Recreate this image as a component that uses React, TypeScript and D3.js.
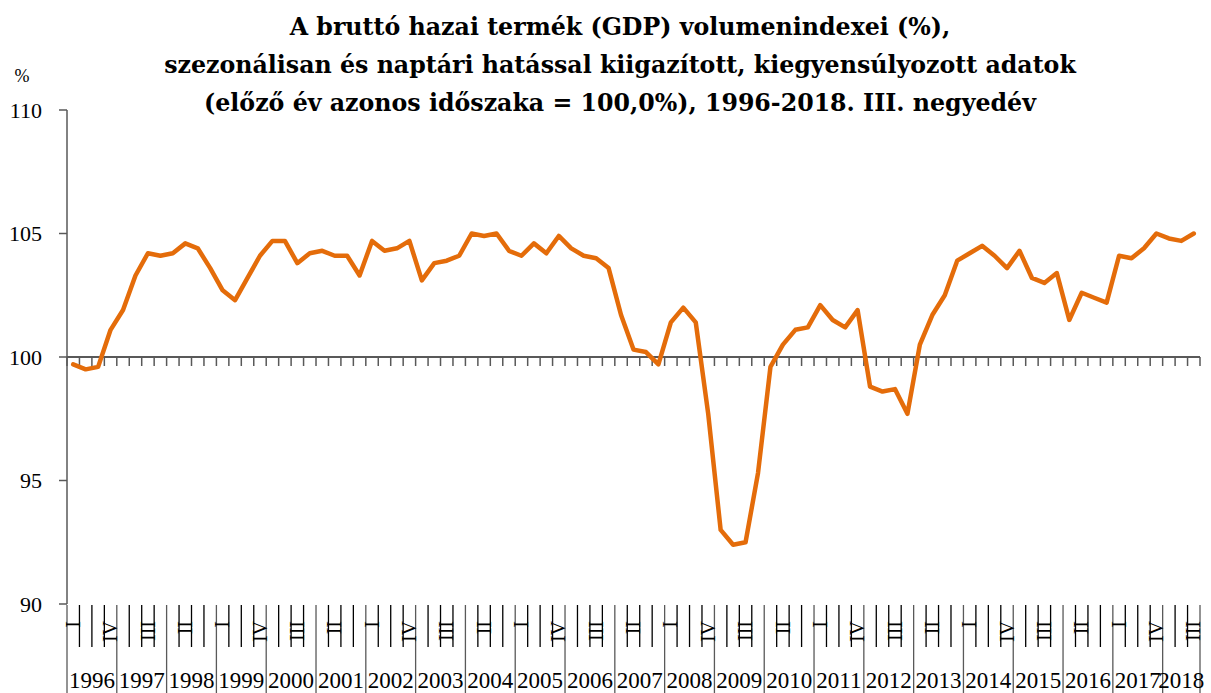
import React, { useEffect, useRef } from 'react';
import * as d3 from 'd3';

const titleLines = [
    'A bruttó hazai termék (GDP) volumenindexei (%),',
    'szezonálisan és naptári hatással kiigazított, kiegyensúlyozott adatok',
    '(előző év azonos időszaka = 100,0%), 1996-2018. III. negyedév'
];

const years = [
    1996, 1997, 1998, 1999, 2000, 2001, 2002, 2003, 2004, 2005, 2006, 2007,
    2008, 2009, 2010, 2011, 2012, 2013, 2014, 2015, 2016, 2017, 2018
];

const quarterLabels = ['I', 'II', 'III', 'IV'];

// quarterly values, 1996 Q1 .. 2018 Q3
const gdpIndex = [
    99.7, 99.5, 99.6, 101.1,
    101.9, 103.3, 104.2, 104.1,
    104.2, 104.6, 104.4, 103.6,
    102.7, 102.3, 103.2, 104.1,
    104.7, 104.7, 103.8, 104.2,
    104.3, 104.1, 104.1, 103.3,
    104.7, 104.3, 104.4, 104.7,
    103.1, 103.8, 103.9, 104.1,
    105.0, 104.9, 105.0, 104.3,
    104.1, 104.6, 104.2, 104.9,
    104.4, 104.1, 104.0, 103.6,
    101.7, 100.3, 100.2, 99.7,
    101.4, 102.0, 101.4, 97.7,
    93.0, 92.4, 92.5, 95.3,
    99.6, 100.5, 101.1, 101.2,
    102.1, 101.5, 101.2, 101.9,
    98.8, 98.6, 98.7, 97.7,
    100.5, 101.7, 102.5, 103.9,
    104.2, 104.5, 104.1, 103.6,
    104.3, 103.2, 103.0, 103.4,
    101.5, 102.6, 102.4, 102.2,
    104.1, 104.0, 104.4, 105.0,
    104.8, 104.7, 105.0
];

const yTicks = [90, 95, 100, 105, 110];

const width = 1211;
const height = 693;
const plot = { left: 67, right: 1200, top: 110, bottom: 604 };
const axisColor = '#595959';
const lineColor = '#E46C0A';
const font = '"Liberation Serif", "Times New Roman", serif';
const titleFont = '"DejaVu Serif", "Liberation Serif", serif';

const App = () => {
    const ref = useRef(null);

    useEffect(() => {
        const svg = d3.select(ref.current);
        svg.selectAll('*').remove();

        const n = gdpIndex.length;
        const x = d3.scaleLinear().domain([0, n]).range([plot.left, plot.right]);
        const y = d3.scaleLinear().domain([90, 110]).range([plot.bottom, plot.top]);

        // title - sized so the widest line spans about 912px like the original
        const title = svg.append('g')
            .selectAll('text')
            .data(titleLines)
            .enter().append('text')
            .attr('x', 620)
            .attr('y', (d, i) => 35 + i * 38)
            .attr('text-anchor', 'middle')
            .attr('font-family', titleFont)
            .attr('font-weight', 'bold')
            .attr('font-size', 24)
            .text(d => d);
        const widest = title.nodes()[1].getComputedTextLength();
        if (widest > 0) {
            title.attr('font-size', Math.min(26, 24 * 912 / widest));
        }

        svg.append('text')
            .attr('x', 22)
            .attr('y', 82)
            .attr('text-anchor', 'middle')
            .attr('font-family', font)
            .attr('font-size', 18)
            .text('%');

        // y axis
        svg.append('line')
            .attr('x1', plot.left).attr('x2', plot.left)
            .attr('y1', y(110)).attr('y2', y(90))
            .attr('stroke', axisColor).attr('stroke-width', 1.5);

        const yt = svg.append('g').selectAll('g')
            .data(yTicks)
            .enter().append('g');
        yt.append('line')
            .attr('x1', plot.left - 8).attr('x2', plot.left)
            .attr('y1', d => y(d)).attr('y2', d => y(d))
            .attr('stroke', axisColor).attr('stroke-width', 1.5);
        yt.append('text')
            .attr('x', 42)
            .attr('y', d => y(d))
            .attr('dy', '0.35em')
            .attr('text-anchor', 'end')
            .attr('font-family', font)
            .attr('font-size', 22)
            .text(d => d);

        // the 100 line with quarter ticks
        svg.append('line')
            .attr('x1', plot.left).attr('x2', plot.right)
            .attr('y1', y(100)).attr('y2', y(100))
            .attr('stroke', axisColor).attr('stroke-width', 2);
        svg.append('g').selectAll('line')
            .data(d3.range(n + 1))
            .enter().append('line')
            .attr('x1', d => x(d)).attr('x2', d => x(d))
            .attr('y1', y(100)).attr('y2', y(100) + 9)
            .attr('stroke', axisColor).attr('stroke-width', 1.5);

        // category separators at the bottom
        svg.append('g').selectAll('line')
            .data(d3.range(n + 1))
            .enter().append('line')
            .attr('x1', d => x(d)).attr('x2', d => x(d))
            .attr('y1', plot.bottom + 1)
            .attr('y2', d => (d % 4 === 0 || d === n) ? height : plot.bottom + 43)
            .attr('stroke', d => (d % 4 === 0 || d === n) ? axisColor : '#000')
            .attr('stroke-width', 1.3);

        // quarter labels, every third
        svg.append('g').selectAll('text')
            .data(d3.range(0, n, 3))
            .enter().append('text')
            .attr('transform', d =>
                'translate(' + x(d + 0.5) + ',' + (plot.bottom + 17) + ') rotate(-90)')
            .attr('dy', '0.33em')
            .attr('text-anchor', 'end')
            .attr('font-family', font)
            .attr('font-size', 20)
            .text(d => quarterLabels[d % 4]);

        // year labels
        svg.append('g').selectAll('text')
            .data(years)
            .enter().append('text')
            .attr('x', (d, i) => (x(i * 4) + x(Math.min(i * 4 + 4, n))) / 2)
            .attr('y', 688)
            .attr('text-anchor', 'middle')
            .attr('font-family', font)
            .attr('font-size', 23)
            .text(d => d);

        // series
        const line = d3.line()
            .x((d, i) => x(i + 0.5))
            .y(d => y(d));

        svg.append('path')
            .datum(gdpIndex)
            .attr('d', line)
            .attr('fill', 'none')
            .attr('stroke', lineColor)
            .attr('stroke-width', 4.5)
            .attr('stroke-linejoin', 'round')
            .attr('stroke-linecap', 'round');
    }, []);

    return (
        <svg ref={ref} width={width} height={height}
            style={{ position: 'absolute', left: 0, top: 0, background: '#fff' }} />
    );
};

export default App;
